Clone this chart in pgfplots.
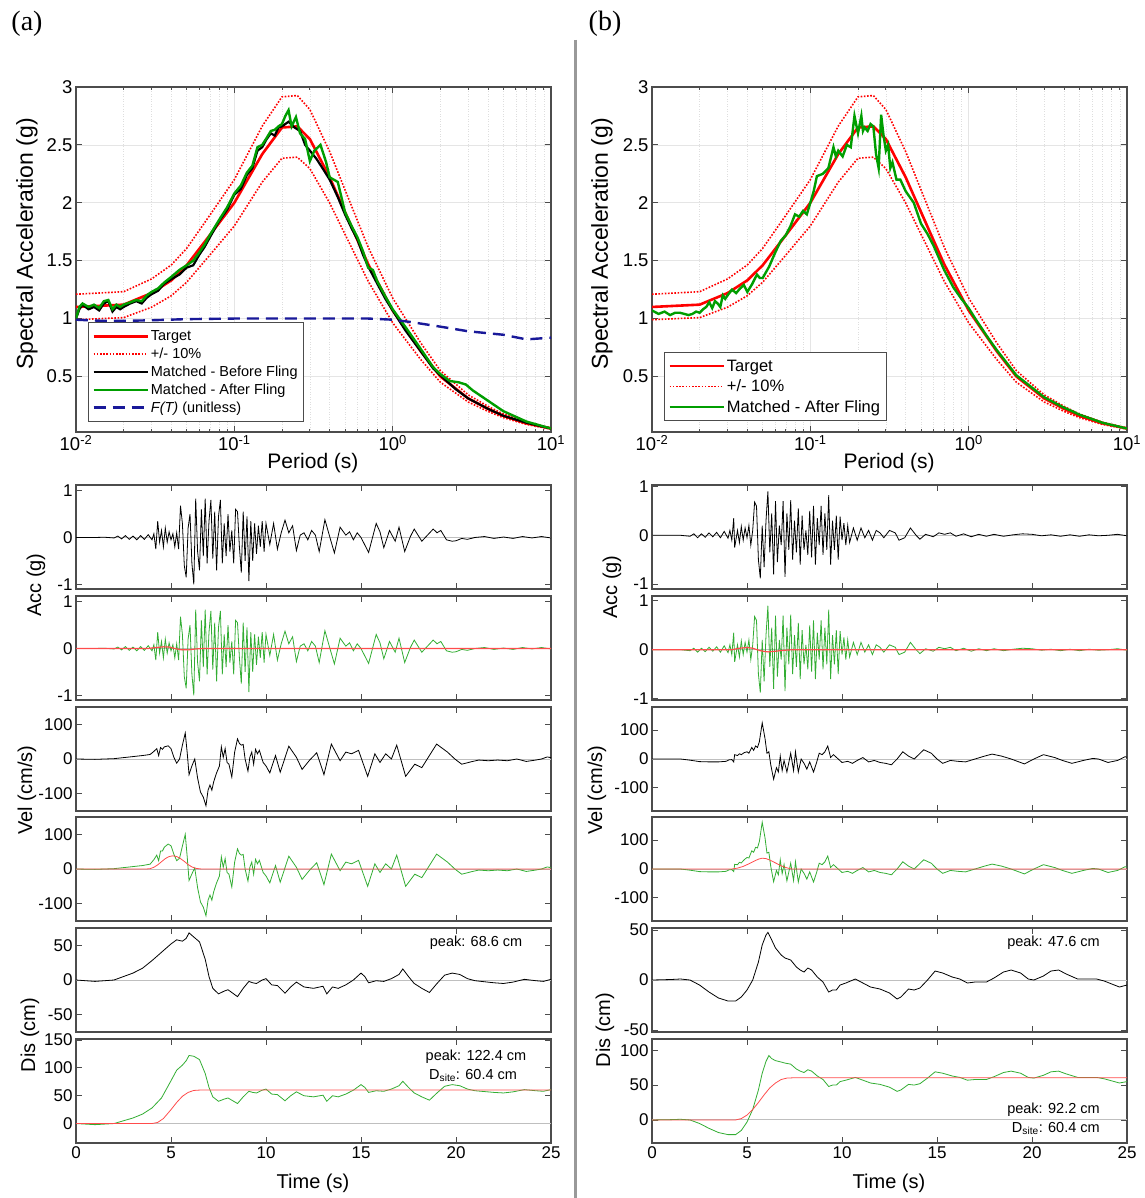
\documentclass[border=0pt]{standalone}
\usepackage{fontspec}
\setmainfont{Liberation Sans}
\newfontfamily\serifcap{Liberation Serif}
\usepackage{pgfplots}
\usepackage{pgfplotstable}
\pgfplotsset{compat=1.18}

\definecolor{mgreen}{rgb}{0.0,0.62,0.0}
\definecolor{tgreen}{rgb}{0.2,0.68,0.2}
\definecolor{tred}{rgb}{1,0.3,0.3}
\definecolor{fblue}{rgb}{0.1,0.1,0.6}
\definecolor{axgray}{rgb}{0.3,0.3,0.3}

% ---------- response spectra ----------
\pgfplotstableread{
T Sa up lo
0.01 1.10 1.21 0.99
0.02 1.12 1.232 1.008
0.03 1.22 1.342 1.098
0.04 1.33 1.463 1.197
0.05 1.46 1.606 1.314
0.07 1.72 1.892 1.548
0.1 2.0 2.2 1.8
0.15 2.42 2.662 2.178
0.2 2.65 2.915 2.385
0.25 2.66 2.926 2.394
0.3 2.55 2.805 2.295
0.4 2.22 2.442 1.998
0.5 1.92 2.112 1.728
0.7 1.47 1.617 1.323
1.0 1.07 1.177 0.963
1.5 0.72 0.792 0.648
2 0.50 0.55 0.45
3 0.31 0.341 0.279
4 0.22 0.242 0.198
5 0.16 0.176 0.144
7 0.095 0.1045 0.0855
10 0.05 0.055 0.045
}\target

\pgfplotstableread{
T Sa
0.01 1.00
0.0105 1.08
0.011 1.12
0.012 1.08
0.013 1.10
0.014 1.07
0.015 1.13
0.016 1.15
0.017 1.06
0.018 1.10
0.019 1.08
0.02 1.10
0.022 1.13
0.024 1.15
0.026 1.13
0.028 1.18
0.03 1.21
0.033 1.24
0.036 1.30
0.04 1.34
0.045 1.38
0.05 1.44
0.055 1.46
0.06 1.55
0.065 1.62
0.07 1.70
0.08 1.84
0.09 1.94
0.1 2.07
0.11 2.12
0.12 2.24
0.13 2.30
0.14 2.45
0.15 2.48
0.16 2.55
0.17 2.60
0.18 2.58
0.19 2.65
0.2 2.66
0.22 2.70
0.24 2.65
0.26 2.62
0.28 2.50
0.3 2.45
0.33 2.38
0.36 2.30
0.4 2.20
0.45 2.05
0.5 1.90
0.55 1.78
0.6 1.68
0.65 1.55
0.7 1.45
0.8 1.30
0.9 1.17
1.0 1.07
1.2 0.90
1.5 0.72
1.8 0.57
2.0 0.51
2.5 0.39
3 0.31
4 0.22
5 0.16
7 0.10
10 0.05
}\befL

\pgfplotstableread{
T Sa
0.01 1.00
0.0105 1.10
0.011 1.13
0.012 1.10
0.013 1.12
0.014 1.09
0.015 1.15
0.016 1.16
0.017 1.08
0.018 1.12
0.019 1.10
0.02 1.12
0.022 1.14
0.024 1.16
0.026 1.15
0.028 1.20
0.03 1.23
0.033 1.26
0.036 1.31
0.04 1.36
0.045 1.42
0.05 1.46
0.055 1.50
0.06 1.57
0.065 1.64
0.07 1.72
0.08 1.85
0.09 1.96
0.1 2.08
0.11 2.15
0.12 2.26
0.13 2.32
0.14 2.48
0.15 2.50
0.16 2.56
0.17 2.62
0.18 2.63
0.19 2.66
0.2 2.68
0.21 2.75
0.22 2.80
0.23 2.66
0.245 2.74
0.26 2.60
0.28 2.55
0.3 2.36
0.32 2.45
0.35 2.50
0.38 2.35
0.4 2.22
0.45 2.18
0.5 1.92
0.55 1.80
0.6 1.70
0.65 1.58
0.7 1.44
0.75 1.42
0.8 1.32
0.9 1.19
1.0 1.08
1.2 0.93
1.5 0.74
1.8 0.58
2.0 0.52
2.3 0.46
2.6 0.45
2.9 0.43
3.2 0.38
4 0.29
5 0.20
7 0.11
10 0.05
}\aftL

\pgfplotstableread{
T F
0.01 0.99
0.012 0.985
0.015 0.98
0.02 0.98
0.03 0.985
0.05 0.995
0.1 1.0
0.3 1.0
0.7 1.0
1.0 0.99
1.3 0.97
2.0 0.93
3.0 0.89
5.0 0.86
7.0 0.82
10 0.835
}\fling

\pgfplotstableread{
T Sa
0.01 1.07
0.011 1.04
0.012 1.06
0.013 1.03
0.014 1.05
0.015 1.05
0.016 1.04
0.017 1.03
0.018 1.04
0.019 1.06
0.02 1.05
0.021 1.08
0.022 1.10
0.023 1.14
0.024 1.09
0.025 1.15
0.026 1.13
0.027 1.10
0.028 1.20
0.029 1.17
0.03 1.20
0.032 1.25
0.034 1.22
0.036 1.26
0.038 1.29
0.04 1.23
0.043 1.30
0.046 1.38
0.048 1.35
0.05 1.35
0.055 1.45
0.06 1.57
0.065 1.67
0.07 1.72
0.075 1.80
0.08 1.90
0.085 1.88
0.09 1.93
0.095 1.90
0.1 2.00
0.105 2.10
0.11 2.23
0.12 2.25
0.13 2.30
0.14 2.48
0.145 2.40
0.15 2.45
0.16 2.40
0.17 2.50
0.18 2.48
0.19 2.75
0.2 2.60
0.21 2.75
0.215 2.62
0.22 2.65
0.23 2.62
0.24 2.68
0.25 2.66
0.26 2.42
0.27 2.30
0.28 2.76
0.29 2.58
0.3 2.45
0.31 2.50
0.32 2.30
0.33 2.35
0.35 2.20
0.37 2.20
0.4 2.10
0.45 2.00
0.5 1.82
0.55 1.73
0.6 1.63
0.7 1.42
0.8 1.27
0.9 1.17
1.0 1.09
1.1 1.00
1.3 0.85
1.5 0.73
2 0.51
3 0.32
4 0.23
4.5 0.20
5 0.17
7 0.10
10 0.05
}\aftR

% ---------- accelerations ----------
\pgfplotstableread{
t v
0 0
1.0 0
1.5 0.005
2.0 -0.01
2.2 0.03
2.4 -0.03
2.6 0.04
2.8 -0.04
3.0 0.03
3.2 -0.05
3.4 0.04
3.6 -0.04
3.8 0.06
4.0 -0.05
4.1 0.08
4.2 -0.25
4.3 0.35
4.4 -0.1
4.5 0.15
4.6 -0.2
4.7 0.2
4.8 -0.1
4.9 0.12
5.0 -0.05
5.1 0.08
5.2 -0.2
5.3 0.1
5.4 -0.25
5.5 0.68
5.6 0.3
5.7 -0.6
5.8 -0.85
5.9 0.2
6.0 0.5
6.1 -0.55
6.2 -1.0
6.3 0.83
6.4 -0.3
6.5 -0.7
6.6 0.6
6.7 -0.4
6.8 0.83
6.9 -0.55
7.0 0.35
7.1 0.8
7.2 -0.45
7.3 0.55
7.4 -0.7
7.5 0.45
7.6 0.8
7.7 -0.55
7.8 0.3
7.9 -0.4
8.0 0.5
8.1 -0.3
8.2 0.15
8.3 -0.55
8.4 0.6
8.5 0.55
8.6 -0.2
8.7 -0.75
8.8 0.55
8.9 -0.5
9.0 0.45
9.1 -0.93
9.2 0.35
9.3 -0.5
9.4 0.3
9.5 -0.35
9.6 0.25
9.7 -0.2
9.8 0.35
9.9 -0.3
10.0 0.3
10.2 -0.15
10.4 0.3
10.6 -0.25
10.8 0.1
11.0 0.37
11.2 0.1
11.4 0.25
11.6 -0.28
11.8 0.05
12.0 0.1
12.2 -0.05
12.4 0.15
12.6 0.05
12.8 -0.3
13.1 0.38
13.4 -0.05
13.6 -0.33
13.9 0.22
14.2 0.05
14.4 0.12
14.6 -0.05
14.8 0.1
15.0 0.0
15.4 -0.32
15.8 0.3
16.0 0.12
16.2 -0.22
16.5 0.15
16.8 -0.08
17.0 0.22
17.3 -0.3
17.6 0.02
17.8 0.18
18.0 0.05
18.2 -0.08
18.5 0.05
18.8 0.18
19.0 0.1
19.2 0.15
19.5 -0.05
19.8 -0.08
20.0 -0.07
20.3 -0.02
20.6 -0.04
21.0 0.0
21.5 0.02
22.0 -0.02
22.5 0.01
23.0 -0.02
23.5 0.02
24.0 -0.01
24.5 0.02
25.0 -0.01
}\accL

\pgfplotstableread{
t v
0 0
1.5 0
2.0 -0.02
2.2 0.03
2.4 -0.05
2.6 0.03
2.8 -0.04
3.0 0.05
3.2 -0.03
3.4 0.06
3.6 -0.05
3.8 0.08
4.0 -0.06
4.1 0.1
4.2 -0.1
4.3 0.35
4.35 -0.25
4.5 0.1
4.6 -0.15
4.7 0.18
4.8 -0.1
4.9 0.15
5.0 -0.05
5.1 0.2
5.2 -0.2
5.3 0.1
5.4 0.68
5.5 0.6
5.6 -0.5
5.7 -0.88
5.8 0.2
5.9 -0.65
6.0 0.3
6.1 0.9
6.2 -0.35
6.3 0.45
6.4 -0.8
6.5 0.7
6.6 -0.55
6.7 0.2
6.8 -0.2
6.9 0.7
7.0 -0.85
7.1 0.45
7.2 -0.3
7.3 0.72
7.4 -0.5
7.5 0.3
7.6 -0.35
7.7 0.55
7.8 -0.6
7.9 0.4
8.0 -0.3
8.1 0.1
8.2 -0.4
8.3 0.5
8.4 -0.45
8.5 0.6
8.6 -0.6
8.7 0.35
8.8 -0.2
8.9 0.6
9.0 -0.4
9.1 0.45
9.2 -0.3
9.3 0.82
9.4 -0.6
9.5 0.3
9.6 -0.3
9.7 0.4
9.8 -0.5
9.9 0.38
10.0 -0.1
10.1 0.25
10.2 -0.2
10.3 0.2
10.4 -0.15
10.6 0.15
10.8 -0.1
11.0 0.15
11.2 -0.05
11.4 0.1
11.6 -0.1
11.8 0.1
12.0 0.05
12.2 -0.05
12.5 0.1
12.8 0.05
13.0 -0.1
13.3 -0.05
13.6 0.15
13.9 0.0
14.1 -0.08
14.4 0.02
14.8 -0.03
15.1 0.05
15.4 0.02
15.7 0.05
16.0 -0.02
16.4 0.03
16.8 -0.03
17.2 0.02
17.6 -0.02
18.0 0.02
18.5 -0.02
19.0 0.01
19.5 0.03
20.0 0.02
20.5 -0.01
21.0 0.01
21.5 -0.02
22.0 0.01
22.5 -0.02
23.0 0.01
23.5 -0.01
24.0 0.0
24.5 0.02
25.0 -0.01
}\accR

\pgfplotstableread{
t v
0 0
3.8 0
4.2 0.02
4.6 0.035
4.9 0.03
5.2 0.0
5.5 -0.025
5.9 -0.03
6.3 -0.01
6.7 0
25 0
}\apL

\pgfplotstableread{
t v
0 0
4.2 0
4.6 0.03
5.0 0.045
5.3 0.03
5.7 -0.02
6.1 -0.045
6.5 -0.03
7.0 -0.01
7.4 0
25 0
}\apR

% ---------- velocities ----------
\pgfplotstableread{
t v
0 0
1 -1
2 1
2.5 4
3 7
3.5 10
3.9 13
4.1 22
4.25 30
4.35 10
4.45 33
4.55 28
4.65 35
4.85 38
5.0 30
5.15 5
5.3 -12
5.45 0
5.6 40
5.75 75
5.85 20
5.95 -45
6.1 -20
6.25 0
6.4 -55
6.55 -95
6.7 -110
6.84 -135
6.95 -90
7.05 -75
7.15 -90
7.25 -65
7.4 -40
7.55 -20
7.65 35
7.75 5
7.85 30
7.95 -10
8.05 -15
8.2 -52
8.35 20
8.5 58
8.6 45
8.7 40
8.8 42
8.9 0
9.05 -35
9.15 5
9.25 20
9.35 -15
9.45 28
9.55 15
9.65 25
9.85 -10
10.0 -20
10.2 -40
10.5 10
10.75 -38
11.2 37
11.6 5
11.9 -30
12.3 -3
12.67 18
13.05 -45
13.44 43
13.9 -5
14.2 20
14.5 15
14.87 25
15.35 -50
15.73 15
16.0 -10
16.3 15
16.6 0
16.88 40
17.35 -50
17.83 -15
18.2 -25
18.6 10
18.98 43
19.55 20
19.94 0
20.3 -15
20.8 -8
21.2 -3
21.7 -5
22.2 -3
22.7 -5
23.2 0
23.7 -7
24.2 -3
24.5 0
24.8 6
25 4
}\velL

\pgfplotstableread{
t v
0 0
1 -1
2 1
2.5 4
3 7
3.5 10
3.9 14
4.1 27
4.25 40
4.35 24
4.45 52
4.55 52
4.65 63
4.85 72
5.0 67
5.15 43
5.3 24
5.45 31
5.6 66
5.75 100
5.85 37
5.95 -33
6.1 -14
6.25 3
6.4 -54
6.55 -95
6.7 -110
6.84 -135
6.95 -90
7.05 -75
7.15 -90
7.25 -65
7.4 -40
7.55 -20
7.65 35
7.75 5
7.85 30
7.95 -10
8.05 -15
8.2 -52
8.35 20
8.5 58
8.6 45
8.7 40
8.8 42
8.9 0
9.05 -35
9.15 5
9.25 20
9.35 -15
9.45 28
9.55 15
9.65 25
9.85 -10
10.0 -20
10.2 -40
10.5 10
10.75 -38
11.2 37
11.6 5
11.9 -30
12.3 -3
12.67 18
13.05 -45
13.44 43
13.9 -5
14.2 20
14.5 15
14.87 25
15.35 -50
15.73 15
16.0 -10
16.3 15
16.6 0
16.88 40
17.35 -50
17.83 -15
18.2 -25
18.6 10
18.98 43
19.55 20
19.94 0
20.3 -15
20.8 -8
21.2 -3
21.7 -5
22.2 -3
22.7 -5
23.2 0
23.7 -7
24.2 -3
24.5 0
24.8 6
25 4
}\velLf

\pgfplotstableread{
t v
0 0
3.7 0
3.9 1
4.1 5
4.3 12
4.5 21
4.7 30
4.9 36
5.1 38
5.3 36
5.5 30
5.7 22
5.9 13
6.1 6
6.3 2
6.6 0
25 0
}\vpL

\pgfplotstableread{
t v
0 0
1.5 0
2.0 -4
2.5 -9
3.0 -10
3.5 -10
3.9 -8
4.05 -3
4.2 -2
4.3 -10
4.35 15
4.5 12
4.6 18
4.7 15
4.85 22
5.0 25
5.1 20
5.25 40
5.35 30
5.45 45
5.55 40
5.65 60
5.8 125
5.95 70
6.05 20
6.15 25
6.25 -20
6.4 -70
6.55 -30
6.65 -45
6.75 10
6.85 -40
6.95 -5
7.1 -45
7.3 20
7.45 -40
7.55 25
7.7 -45
7.85 0
8.0 -15
8.15 -35
8.3 -10
8.5 -45
8.65 -15
8.8 20
8.95 15
9.1 25
9.25 45
9.4 5
9.55 15
9.8 0
10.0 -12
10.3 -8
10.55 -15
10.8 -5
11.1 5
11.4 -10
11.7 -5
12.0 -12
12.3 -15
12.6 -20
12.9 0
13.2 25
13.5 10
13.8 0
14.3 32
14.7 20
15.0 0
15.3 -15
15.7 -5
16.1 -8
16.5 -10
17.0 0
17.5 10
17.9 17
18.4 10
18.9 0
19.6 -17
20.1 0
20.6 15
21.2 5
21.6 -5
22.1 -15
22.7 -5
23.2 2
23.5 0
24.0 -12
24.5 -5
24.9 8
25 6
}\velR

\pgfplotstableread{
t v
0 0
1.5 0
2.0 -4
2.5 -9
3.0 -10
3.5 -10
3.9 -8
4.05 -3
4.2 -2
4.3 -9
4.35 16
4.5 15
4.6 23
4.7 21
4.85 32
5.0 40
5.1 38
5.25 63
5.35 58
5.45 75
5.55 73
5.65 95
5.8 162
5.95 107
6.05 55
6.15 58
6.25 9
6.4 -44
6.55 -5
6.65 -20
6.75 32
6.85 -16
6.95 16
7.1 -41
7.3 20
7.45 -40
7.55 25
7.7 -45
7.85 0
8.0 -15
8.15 -35
8.3 -10
8.5 -45
8.65 -15
8.8 20
8.95 15
9.1 25
9.25 45
9.4 5
9.55 15
9.8 0
10.0 -12
10.3 -8
10.55 -15
10.8 -5
11.1 5
11.4 -10
11.7 -5
12.0 -12
12.3 -15
12.6 -20
12.9 0
13.2 25
13.5 10
13.8 0
14.3 32
14.7 20
15.0 0
15.3 -15
15.7 -5
16.1 -8
16.5 -10
17.0 0
17.5 10
17.9 17
18.4 10
18.9 0
19.6 -17
20.1 0
20.6 15
21.2 5
21.6 -5
22.1 -15
22.7 -5
23.2 2
23.5 0
24.0 -12
24.5 -5
24.9 8
25 6
}\velRf

\pgfplotstableread{
t v
0 0
4.2 0
4.5 3
4.8 9
5.1 18
5.4 28
5.6 34
5.8 37.5
6.0 36
6.2 31
6.5 21
6.8 11
7.1 4
7.35 0
25 0
}\vpR

% ---------- displacements ----------
\pgfplotstableread{
t v
0 0
1 -2
2 0
2.5 5
3 10
3.5 17
4 28
4.5 40
5 52
5.3 58
5.6 56
5.8 60
5.95 68
6.2 62
6.5 55
6.8 30
7.0 5
7.2 -12
7.5 -20
7.8 -16
8.0 -14
8.2 -18
8.5 -24
8.8 -12
9.1 -2
9.3 -4
9.5 -5
9.8 0
10.0 2
10.3 -7
10.6 -8
11.0 -19
11.3 -10
11.6 -3
12.0 -10
12.5 -12
13.0 -9
13.2 -20
13.5 -10
13.8 -12
14.2 -7
14.6 0
15.0 10
15.2 5
15.4 -4
15.8 -1
16.2 -2
16.6 2
17.0 8
17.2 16
17.5 5
17.8 -5
18.2 -12
18.6 -18
19.0 -5
19.4 7
19.8 10
20.2 8
20.6 2
21 -1
22 -4
22.5 -5
23 -3
23.6 1
24.2 -1
24.6 -2
25 1
}\disL

\pgfplotstableread{
t v
0 0
1 -2
2 0
2.5 5
3 10
3.5 17
4 28
4.5 46
5 77
5.3 96
5.6 105
5.8 113
5.95 122.4
6.2 121
6.5 115
6.8 90
7.0 65
7.2 48
7.5 40
7.8 44
8.0 46
8.2 42
8.5 36
8.8 48
9.1 58
9.3 56
9.5 55
9.8 60
10.0 62
10.3 53
10.6 52
11.0 41
11.3 50
11.6 57
12.0 50
12.5 48
13.0 51
13.2 40
13.5 50
13.8 48
14.2 53
14.6 60
15.0 70
15.2 65
15.4 56
15.8 59
16.2 58
16.6 62
17.0 68
17.2 76
17.5 65
17.8 55
18.2 48
18.6 42
19.0 55
19.4 67
19.8 70
20.2 68
20.6 62
21 59
22 56
22.5 55
23 57
23.6 61
24.2 59
24.6 58
25 61
}\disLf

\pgfplotstableread{
t v
0 0
4.0 0
4.3 2
4.6 9
5.0 25
5.3 38
5.6 49
5.9 56
6.2 59.5
6.6 60.4
25 60.4
}\rampL

\pgfplotstableread{
t v
0 0
1 0.5
1.5 1
2 0
2.5 -5
3 -12
3.5 -18
4.0 -21
4.4 -21
4.7 -17
5.0 -10
5.3 0
5.6 18
5.8 35
6.0 45
6.1 47.6
6.3 40
6.5 32
6.8 25
7.0 22
7.3 20
7.6 13
7.8 10
8.0 8
8.2 12
8.4 10
8.7 3
9.0 -2
9.3 -12
9.5 -10
9.7 -10
9.9 -5
10.2 -3
10.7 1
11.0 -2
11.5 -7
12.0 -9
12.5 -13
12.9 -19
13.1 -17
13.5 -9
13.8 -10
14.1 -8
14.5 0
14.9 9
15.3 7
15.8 3
16.2 1
16.6 -3
17.0 -2
17.6 -2
18.0 2
18.5 8
18.9 10
19.4 7
19.8 1
20.1 0
20.6 4
21.0 9
21.4 10
21.8 6
22.4 1
23.0 1
23.4 1
23.8 -1
24.2 -4
24.6 -7
25 -5
}\disR

\pgfplotstableread{
t v
0 0
1 0.5
1.5 1
2 0
2.5 -5
3 -12
3.5 -18
4.0 -21
4.4 -21
4.7 -15
5.0 -3
5.3 15
5.6 43
5.8 67
6.0 84
6.15 92.2
6.3 88
6.5 85
6.8 83
7.0 81.5
7.3 80
7.6 73
7.8 70
8.0 68
8.2 72
8.4 70
8.7 63
9.0 58
9.3 48
9.5 50
9.7 50
9.9 55
10.2 57
10.7 61
11.0 58
11.5 53
12.0 51
12.5 47
12.9 41
13.1 43
13.5 51
13.8 50
14.1 52
14.5 60
14.9 69
15.3 67
15.8 63
16.2 61
16.6 57
17.0 58
17.6 58
18.0 62
18.5 68
18.9 70
19.4 67
19.8 61
20.1 60
20.6 64
21.0 69
21.4 70
21.8 66
22.4 61
23.0 61
23.4 61
23.8 59
24.2 56
24.6 53
25 55
}\disRf

\pgfplotstableread{
t v
0 0
4.4 0
4.7 2
5.0 7
5.3 15
5.6 25
5.9 36
6.2 46
6.5 53
6.8 58
7.1 60
7.4 60.4
25 60.4
}\rampR

\pgfplotsset{
  mybase/.style={scale only axis, width=475pt, anchor=north west,
    axis line style={axgray, line width=1.1pt},
    tick style={axgray, line width=0.9pt},
    tick align=inside, major tick length=6pt, minor tick length=3pt,
    /pgf/number format/assume math mode=true,
    tick label style={font=\fontsize{17}{19}\selectfont}},
  myts/.style={mybase, height=104pt, xmin=0, xmax=25,
    xtick={0,5,10,15,20,25}, xticklabels={}},
  myspec/.style={mybase, height=345pt, xmin=0.01, xmax=10,
    ymin=0.02, ymax=3, ytick={0.5,1,1.5,2,2.5,3},
    xtick={0.01,0.1,1,10},
    xticklabels={10\textsuperscript{-2},10\textsuperscript{-1},10\textsuperscript{0},10\textsuperscript{1}},
    tick label style={font=\fontsize{18.5}{20}\selectfont},
    xmajorgrids, xminorgrids, ymajorgrids,
    major grid style={black!10, line width=0.6pt},
    minor grid style={black!13, line width=0.5pt, dotted},
    legend cell align=left},
  zline/.style={black!25, line width=1pt, forget plot},
  tsline/.style={line width=0.8pt},
}

\newcommand{\lab}{\fontsize{20}{22}\selectfont}
\newcommand{\ann}{\fontsize{14.5}{17}\selectfont}

\begin{document}
\begin{tikzpicture}
\path[use as bounding box] (0pt,0pt) rectangle (1144pt,-1198pt);
\draw[black!40, line width=3pt] (575pt,-40pt) -- (575pt,-1198pt);
\node[font=\serifcap\fontsize{28}{30}\selectfont] at (27pt,-24pt) {(a)};
\node[font=\serifcap\fontsize{28}{30}\selectfont] at (605pt,-24pt) {(b)};

% ================= (a) spectrum =================
\begin{axis}[xmode=log, myspec, at={(76pt,-87pt)},
  legend style={at={(0.025,0.029)}, anchor=south west, draw=axgray,
    line width=0.9pt, font=\ann, inner xsep=4pt, inner ysep=6pt,
    row sep=1.8pt},
  legend image code/.code={\draw[#1] (0pt,0pt) -- (54pt,0pt);}]
\addplot[red, line width=2.6pt] table[x=T,y=Sa] {\target};
\addlegendentry{Target}
\addplot[red, line width=1.6pt, dash pattern=on 1.6pt off 1.6pt] table[x=T,y=up] {\target};
\addlegendentry{+/- 10\%}
\addplot[red, line width=1.6pt, dash pattern=on 1.6pt off 1.6pt, forget plot] table[x=T,y=lo] {\target};
\addplot[black, line width=2.2pt] table[x=T,y=Sa] {\befL};
\addlegendentry{Matched - Before Fling}
\addplot[mgreen, line width=2.4pt] table[x=T,y=Sa] {\aftL};
\addlegendentry{Matched - After Fling}
\addplot[fblue, line width=2.4pt, dash pattern=on 12pt off 7pt] table[x=T,y=F] {\fling};
\addlegendentry{\textit{F(T)} (unitless)}
\end{axis}
\node[rotate=90, font=\fontsize{23}{25}\selectfont] at (27pt,-244pt) {Spectral Acceleration (g)};
\node[font=\fontsize{21}{23}\selectfont] at (313pt,-463pt) {Period (s)};

% ================= (b) spectrum =================
\begin{axis}[xmode=log, myspec, at={(652pt,-87pt)},
  legend style={at={(0.025,0.032)}, anchor=south west, draw=axgray,
    line width=0.9pt, font=\fontsize{16.5}{19}\selectfont, inner xsep=4pt, inner ysep=5pt,
    row sep=3pt},
  legend image code/.code={\draw[#1] (0pt,0pt) -- (54pt,0pt);}]
\addplot[red, line width=2.6pt] table[x=T,y=Sa] {\target};
\addlegendentry{Target}
\addplot[red, line width=1.6pt, dash pattern=on 1.6pt off 1.6pt] table[x=T,y=up] {\target};
\addlegendentry{+/- 10\%}
\addplot[red, line width=1.6pt, dash pattern=on 1.6pt off 1.6pt, forget plot] table[x=T,y=lo] {\target};
\addplot[mgreen, line width=2.4pt] table[x=T,y=Sa] {\aftR};
\addlegendentry{Matched - After Fling}
\end{axis}
\node[rotate=90, font=\fontsize{23}{25}\selectfont] at (602pt,-244pt) {Spectral Acceleration (g)};
\node[font=\fontsize{21}{23}\selectfont] at (889pt,-463pt) {Period (s)};

% ================= (a) time histories =================
\begin{axis}[myts, at={(76pt,-485pt)}, ymin=-1.1, ymax=1.12, ytick={-1,0,1}]
\addplot[zline] coordinates {(0,0) (25,0)};
\addplot[black, tsline] table[x=t,y=v] {\accL};
\end{axis}
\begin{axis}[myts, at={(76pt,-596pt)}, ymin=-1.1, ymax=1.12, ytick={-1,0,1}]
\addplot[zline] coordinates {(0,0) (25,0)};
\addplot[tgreen, tsline] table[x=t,y=v] {\accL};
\addplot[tred, line width=1.2pt] table[x=t,y=v] {\apL};
\end{axis}
\begin{axis}[myts, at={(76pt,-707pt)}, ymin=-150, ymax=150, ytick={-100,0,100}]
\addplot[zline] coordinates {(0,0) (25,0)};
\addplot[black, tsline] table[x=t,y=v] {\velL};
\end{axis}
\begin{axis}[myts, at={(76pt,-817pt)}, ymin=-150, ymax=150, ytick={-100,0,100}]
\addplot[zline] coordinates {(0,0) (25,0)};
\addplot[tgreen, tsline] table[x=t,y=v] {\velLf};
\addplot[tred, tsline] table[x=t,y=v] {\vpL};
\end{axis}
\begin{axis}[myts, at={(76pt,-928pt)}, ymin=-75, ymax=75, ytick={-50,0,50}]
\addplot[zline] coordinates {(0,0) (25,0)};
\addplot[black, tsline] table[x=t,y=v] {\disL};
\node[anchor=east, font=\ann] at (rel axis cs:0.947,0.86) {peak: 68.6 cm};
\end{axis}
\begin{axis}[myts, at={(76pt,-1039pt)}, ymin=-35, ymax=152, ytick={0,50,100,150},
  xticklabels={0,5,10,15,20,25}]
\addplot[zline] coordinates {(0,0) (25,0)};
\addplot[tgreen, tsline] table[x=t,y=v] {\disLf};
\addplot[tred, tsline] table[x=t,y=v] {\rampL};
\node[font=\ann] at (rel axis cs:0.842,0.83) {peak: 122.4 cm};
\node[font=\ann] at (rel axis cs:0.836,0.65) {D\textsubscript{site}: 60.4 cm};
\end{axis}
\node[rotate=90, font=\lab] at (36pt,-585pt) {Acc (g)};
\node[rotate=90, font=\lab] at (27pt,-790pt) {Vel (cm/s)};
\node[rotate=90, font=\lab] at (30pt,-1035pt) {Dis (cm)};
\node[font=\lab] at (313pt,-1183pt) {Time (s)};

% ================= (b) time histories =================
\begin{axis}[myts, at={(652pt,-485pt)}, ymin=-1.1, ymax=1.03, ytick={-1,0,1}]
\addplot[zline] coordinates {(0,0) (25,0)};
\addplot[black, tsline] table[x=t,y=v] {\accR};
\end{axis}
\begin{axis}[myts, at={(652pt,-596pt)}, ymin=-1.03, ymax=1.1, ytick={-1,0,1}]
\addplot[zline] coordinates {(0,0) (25,0)};
\addplot[tgreen, tsline] table[x=t,y=v] {\accR};
\addplot[tred, line width=1.2pt] table[x=t,y=v] {\apR};
\end{axis}
\begin{axis}[myts, at={(652pt,-707pt)}, ymin=-180, ymax=180, ytick={-100,0,100}]
\addplot[zline] coordinates {(0,0) (25,0)};
\addplot[black, tsline] table[x=t,y=v] {\velR};
\end{axis}
\begin{axis}[myts, at={(652pt,-817pt)}, ymin=-180, ymax=180, ytick={-100,0,100}]
\addplot[zline] coordinates {(0,0) (25,0)};
\addplot[tgreen, tsline] table[x=t,y=v] {\velRf};
\addplot[tred, tsline] table[x=t,y=v] {\vpR};
\end{axis}
\begin{axis}[myts, at={(652pt,-928pt)}, ymin=-52, ymax=52, ytick={-50,0,50}]
\addplot[zline] coordinates {(0,0) (25,0)};
\addplot[black, tsline] table[x=t,y=v] {\disR};
\node[anchor=east, font=\ann] at (rel axis cs:0.95,0.86) {peak: 47.6 cm};
\end{axis}
\begin{axis}[myts, at={(652pt,-1039pt)}, ymin=-33, ymax=116, ytick={0,50,100},
  xticklabels={0,5,10,15,20,25}]
\addplot[zline] coordinates {(0,0) (25,0)};
\addplot[tgreen, tsline] table[x=t,y=v] {\disRf};
\addplot[tred, tsline] table[x=t,y=v] {\rampR};
\node[anchor=east, font=\ann] at (rel axis cs:0.95,0.32) {peak: 92.2 cm};
\node[anchor=east, font=\ann] at (rel axis cs:0.95,0.14) {D\textsubscript{site}: 60.4 cm};
\end{axis}
\node[rotate=90, font=\lab] at (612pt,-587pt) {Acc (g)};
\node[rotate=90, font=\lab] at (597pt,-790pt) {Vel (cm/s)};
\node[rotate=90, font=\lab] at (605pt,-1030pt) {Dis (cm)};
\node[font=\lab] at (889pt,-1183pt) {Time (s)};
\end{tikzpicture}
\end{document}
